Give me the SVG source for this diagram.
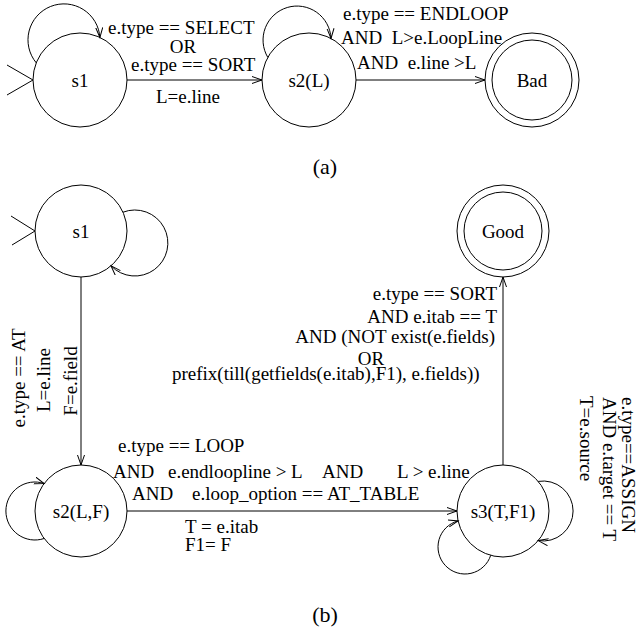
<svg xmlns="http://www.w3.org/2000/svg" width="640" height="632" viewBox="0 0 640 632">
<style>
text{font-family:"Liberation Serif","Times New Roman",serif;font-size:19px;fill:#000;white-space:pre}
.n{text-anchor:middle}
.st{fill:none;stroke:#000;stroke-width:1}
.e{fill:none;stroke:#000;stroke-width:1;marker-end:url(#ah)}
.cap{font-size:22px;text-anchor:middle}
</style>
<defs>
<marker id="ah" markerUnits="userSpaceOnUse" markerWidth="12" markerHeight="9" refX="10" refY="4" orient="auto">
<path d="M0,0.5 L10,4 L0,7.5" fill="none" stroke="#000" stroke-width="1"/>
</marker>
</defs>
<rect width="640" height="632" fill="#fff"/>

<g id="a_s1"><circle class="st" cx="80" cy="80" r="47"/><text class="n" x="80" y="87">s1</text></g>
<g id="a_s2"><circle class="st" cx="309" cy="80" r="47"/><text class="n" x="309" y="87">s2(L)</text></g>
<g id="a_bad"><circle class="st" cx="532" cy="80" r="47"/><circle class="st" cx="532" cy="80" r="40"/><text class="n" x="532" y="87">Bad</text></g>

<g id="b_s1"><circle class="st" cx="81" cy="231" r="46"/><text class="n" x="81" y="238">s1</text></g>
<g id="b_s2"><circle class="st" cx="81" cy="511" r="46"/><text class="n" x="81" y="518">s2(L,F)</text></g>
<g id="b_s3"><circle class="st" cx="503" cy="511" r="46"/><text class="n" x="503" y="518">s3(T,F1)</text></g>
<g id="b_good"><circle class="st" cx="503" cy="231" r="46"/><circle class="st" cx="503" cy="231" r="39"/><text class="n" x="503" y="238">Good</text></g>

<g id="connectors">
<path class="st" d="M7,65 L33,80 M7,95 L33,80"/>
<path class="e" d="M36.3,62.9 A36,36 0 1 1 99.9,37.5"/>
<path class="e" d="M127,80 L262,80"/>
<path class="e" d="M267.8,57.4 A34,34 0 1 1 331,38.4"/>
<path class="e" d="M356,80 L485,80"/>

<path class="st" d="M11,216 L35,231 M12,245 L35,231"/>
<path class="e" d="M123,212.2 A33,33 0 1 1 111,265.8"/>
<path class="e" d="M81,277 L81,465"/>
<path class="e" d="M44.1,538.5 A29,29 0 1 1 44.1,483.5"/>
<path class="e" d="M127,511 L457,511"/>
<path class="e" d="M503,465 L503,277"/>
<path class="e" d="M538.2,481.4 A30,30 0 1 1 538.2,540.6"/>
<path class="e" d="M490.7,555.3 A27,27 0 1 1 458.1,520.9"/>
</g>

<g id="labels">
<text x="108" y="34">e.type == SELECT</text>
<text class="n" x="183" y="53">OR</text>
<text x="131" y="71">e.type == SORT</text>
<text x="156" y="103">L=e.line</text>
<text x="343" y="20">e.type == ENDLOOP</text>
<text x="341" y="44">AND  L&gt;e.LoopLine</text>
<text x="357" y="69">AND  e.line &gt;L</text>
<text class="cap" x="325" y="174">(a)</text>

<text class="n" transform="translate(25,378) rotate(-90)">e.type == AT</text>
<text class="n" transform="translate(50,380) rotate(-90)">L=e.line</text>
<text class="n" transform="translate(77,381) rotate(-90)">F=e.field</text>

<text x="118" y="452">e.type == LOOP</text>
<text y="478"><tspan x="113">AND</tspan><tspan x="168">e.endloopline &gt; L</tspan><tspan x="322">AND</tspan><tspan x="397">L &gt; e.line</tspan></text>
<text y="500"><tspan x="132">AND</tspan><tspan x="192">e.loop_option == AT_TABLE</tspan></text>
<text x="185" y="533">T = e.itab</text>
<text x="185" y="551">F1= F</text>

<text x="497" y="300" text-anchor="end">e.type == SORT</text>
<text x="497" y="323" text-anchor="end">AND e.itab == T</text>
<text x="495" y="343" text-anchor="end">AND (NOT exist(e.fields)</text>
<text class="n" x="371" y="365">OR</text>
<text x="172" y="380">prefix(till(getfields(e.itab),F1), e.fields))</text>

<text transform="translate(622,397) rotate(90)">e.type==ASSIGN</text>
<text transform="translate(603,397) rotate(90)">AND e.target == T</text>
<text transform="translate(580,396) rotate(90)">T=e.source</text>

<text class="cap" x="325" y="622">(b)</text>
</g>
</svg>
